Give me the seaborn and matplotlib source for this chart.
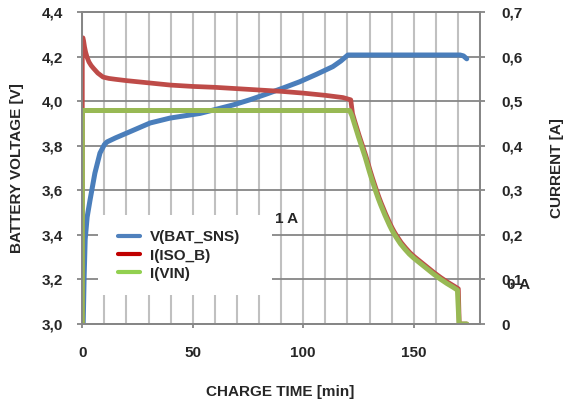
import numpy as np
import pandas as pd
import matplotlib
matplotlib.use("Agg")
import matplotlib.pyplot as plt
from matplotlib.lines import Line2D
from matplotlib.patches import Rectangle
from matplotlib.ticker import FuncFormatter, MultipleLocator
import seaborn as sns

# Battery voltage V(BAT_SNS) [V] versus charge time [min]
t_vbat = [0.4, 0.8, 1.3, 2.2, 3.5, 5.7, 8, 10, 11.2, 15, 21.6, 30.7, 39.7, 53.3, 60,
          68.3, 75.8, 83.4, 90.9, 98.4, 105.9, 113.4, 117, 120.2, 130, 140, 150, 160,
          171, 172.5, 174]
v_bat = [3.00, 3.20, 3.38, 3.48, 3.556, 3.677, 3.767, 3.805, 3.817, 3.835, 3.863, 3.902,
         3.924, 3.945, 3.962, 3.983, 4.006, 4.032, 4.059, 4.087, 4.12, 4.155, 4.18,
         4.207, 4.207, 4.207, 4.207, 4.207, 4.207, 4.203, 4.19]

# Current I(ISO_B) [A]
t_iso = [0, 0, 0.3, 0.6, 1, 1.5, 2.2, 3, 4, 5, 7, 9.4, 12, 15, 20, 30, 40, 50, 60, 70,
         80, 90, 100, 110, 118, 121.5, 122.3, 123.3, 124.3, 125.3, 126.3, 127.3, 128.3,
         129.3, 130.3, 131.3, 132.3, 133.3, 134.3, 135.3, 136.3, 137.3, 138.3, 139.3,
         140.3, 141.3, 142.3, 144.3, 146.3, 148.3, 150.3, 153.3, 156.3, 159.3, 162.3,
         165.3, 168.3, 170.2, 170.6, 174]
i_iso = [0.0, 0.642, 0.642, 0.635, 0.622, 0.610, 0.598, 0.588, 0.580, 0.574, 0.563,
         0.554, 0.551, 0.549, 0.546, 0.541, 0.536, 0.533, 0.531, 0.528, 0.525, 0.522,
         0.518, 0.513, 0.508, 0.503, 0.472, 0.455, 0.439, 0.423, 0.408, 0.393, 0.378,
         0.361, 0.344, 0.328, 0.313, 0.298, 0.284, 0.271, 0.259, 0.247, 0.236, 0.225,
         0.215, 0.206, 0.198, 0.183, 0.171, 0.160, 0.151, 0.139, 0.127, 0.115, 0.104,
         0.094, 0.085, 0.079, 0.0, 0.0]

# Current I(VIN) [A]
t_vin = [0, 0, 121, 122, 123, 124, 125, 126, 127, 128, 129, 130, 131, 132, 133, 134,
         135, 136, 137, 138, 139, 140, 141, 142, 144, 146, 148, 150, 153, 156, 159, 162,
         165, 168, 169.8, 170.5, 174]
i_vin = [0.0, 0.479, 0.479, 0.468, 0.452, 0.436, 0.420, 0.405, 0.390, 0.375, 0.358,
         0.341, 0.325, 0.310, 0.295, 0.281, 0.268, 0.256, 0.244, 0.233, 0.222, 0.212,
         0.203, 0.195, 0.180, 0.168, 0.157, 0.148, 0.136, 0.124, 0.112, 0.101, 0.091,
         0.082, 0.076, 0.0, 0.0]

series_labels = ["V(BAT_SNS)", "I(ISO_B)", "I(VIN)"]
x_ticks = [0, 50, 100, 150]

line_blue = "#4A7EBB"
line_red = "#BE4B48"
line_green = "#98B954"
key_colors = ["#4F81BD", "#C00000", "#92D050"]

sns.set_theme(style="white")
plt.rcParams["font.family"] = ["Liberation Sans", "DejaVu Sans"]
plt.rcParams["font.weight"] = "bold"

W, H = 571, 403
fig = plt.figure(figsize=(W / 100, H / 100), dpi=100)
L, R, T, B = 82.3, 480.0, 12.0, 324.0
ax = fig.add_axes([L / W, 1 - B / H, (R - L) / W, (B - T) / H])
ax2 = ax.twinx()


def ax_x(px):
    return (px - L) / (R - L)


def ax_y(py):
    return (B - py) / (B - T)


grid_dark = "#868686"
grid_light = "#C0C0C0"

sns.lineplot(x=t_vbat, y=v_bat, ax=ax, color=line_blue, lw=3.6,
             sort=False, estimator=None, legend=False)
sns.lineplot(x=t_iso, y=i_iso, ax=ax2, color=line_red, lw=3.4,
             sort=False, estimator=None, legend=False)
sns.lineplot(x=t_vin, y=i_vin, ax=ax2, color=line_green, lw=3.6,
             sort=False, estimator=None, legend=False)

ax.set_xlim(0, 180)
ax.set_ylim(3.0, 4.4)
ax2.set_ylim(0, 0.7)

ax.set_xticks(x_ticks)
ax.xaxis.set_minor_locator(MultipleLocator(10))
ax.yaxis.set_major_locator(MultipleLocator(0.2))
ax2.yaxis.set_major_locator(MultipleLocator(0.1))

ax.yaxis.set_major_formatter(FuncFormatter(lambda v, p: f"{v:.1f}".replace(".", ",")))
ax2.yaxis.set_major_formatter(
    FuncFormatter(lambda v, p: "0" if abs(v) < 1e-9 else f"{v:.1f}".replace(".", ",")))

ax.grid(False)
ax2.grid(False)
ax.xaxis.grid(True, which="both", color=grid_light, lw=1.5)
ax.yaxis.grid(True, which="major", color=grid_dark, lw=1.3)
ax.set_axisbelow(True)

for a in (ax, ax2):
    for s in a.spines.values():
        s.set_color(grid_dark)
        s.set_linewidth(1.3)

fs = 11
ax.tick_params(axis="x", which="major", direction="out", length=3, width=1.3,
               color=grid_dark, pad=13, labelsize=fs, bottom=True)
ax.tick_params(axis="x", which="minor", length=0)
ax.tick_params(axis="y", which="major", direction="out", length=3.6, width=1.3,
               color=grid_dark, pad=10.5, labelsize=fs, left=True)
ax2.tick_params(axis="y", which="major", direction="out", length=3.6, width=1.3,
                color=grid_dark, pad=11.5, labelsize=fs, right=True)
for lab in ax.get_xticklabels() + ax.get_yticklabels() + ax2.get_yticklabels():
    lab.set_fontweight("bold")

ax.set_xlabel("CHARGE TIME [min]", fontsize=fs, fontweight="bold")
ax.set_ylabel("BATTERY VOLTAGE [V]", fontsize=fs, fontweight="bold")
ax2.set_ylabel("CURRENT [A]", fontsize=fs, fontweight="bold")
ax.xaxis.set_label_coords(ax_x(280), ax_y(385))
ax.yaxis.set_label_coords(ax_x(23.5), 0.5)
ax2.yaxis.set_label_coords(ax_x(549.5), 0.5)

# white legend area that hides the grid behind the key
ax.add_patch(Rectangle((ax_x(98), ax_y(295)), ax_x(272) - ax_x(98),
                       ax_y(215) - ax_y(295), transform=ax.transAxes,
                       facecolor="white", edgecolor="none", zorder=1))

handles = [Line2D([], [], color=c, lw=3.0) for c in key_colors]
leg = ax2.legend(handles, series_labels, loc="upper left",
                 bbox_to_anchor=(ax_x(118.3), ax_y(230.5)),
                 frameon=False, borderpad=0, borderaxespad=0,
                 handlelength=1.42, handletextpad=0.65, labelspacing=0.27,
                 prop={"size": fs, "weight": "bold"})

fig.text(275 / W, 1 - 219 / H, "1 A", fontsize=fs, fontweight="bold",
         ha="left", va="center")
fig.text(507 / W, 1 - 285 / H, "0 A", fontsize=fs, fontweight="bold",
         ha="left", va="center")

fig.savefig("out.png", dpi=100)
